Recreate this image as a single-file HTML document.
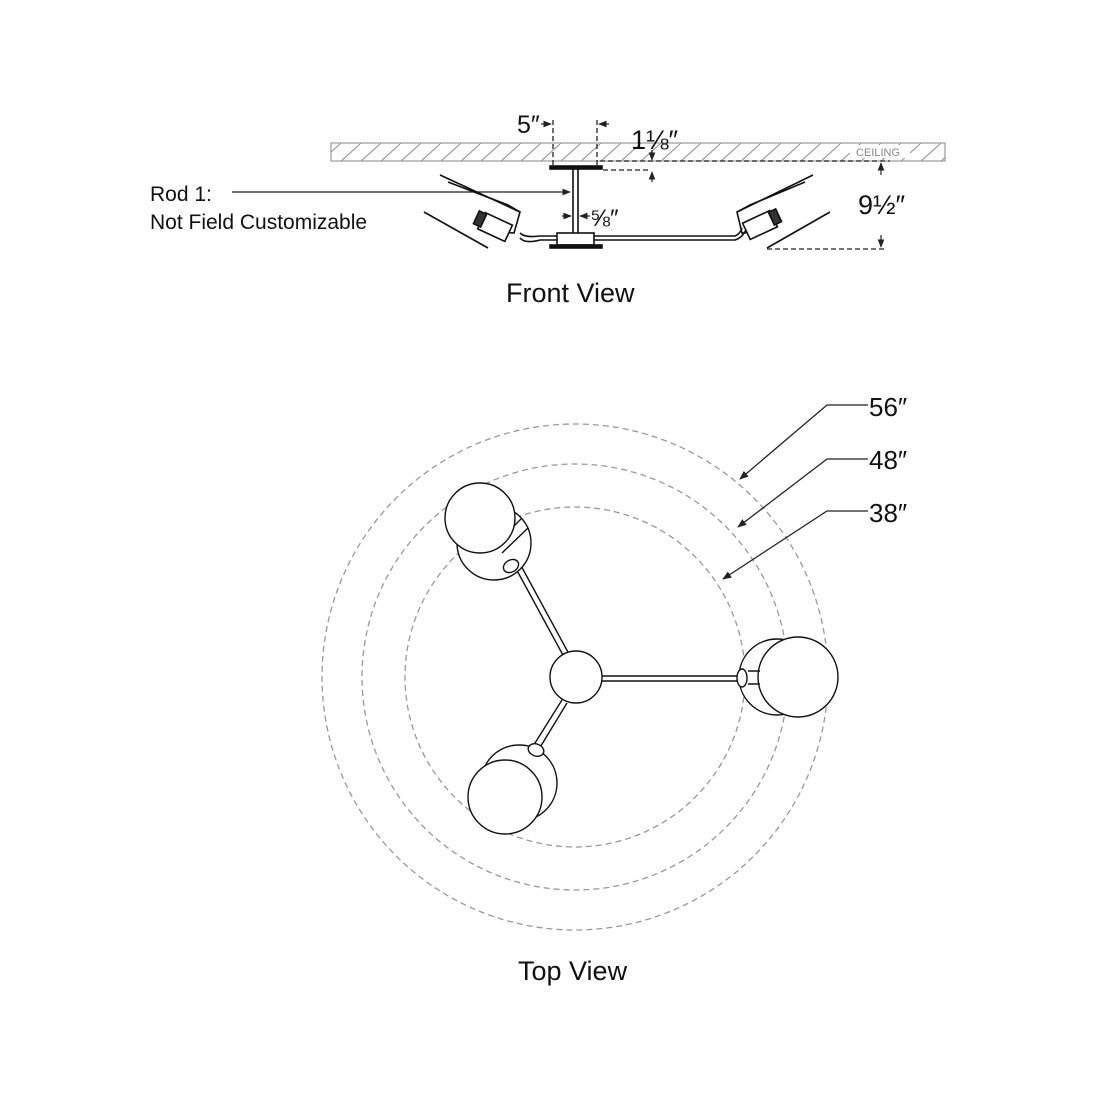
<!DOCTYPE html>
<html><head><meta charset="utf-8"><style>
body{margin:0;background:#fff;width:1100px;height:1100px;overflow:hidden}
svg{display:block}
text{font-family:"Liberation Sans",sans-serif;fill:#111}
</style></head><body>
<svg width="1100" height="1100" viewBox="0 0 1100 1100">
<defs>
<pattern id="h" width="20" height="18" patternUnits="userSpaceOnUse">
<line x1="0" y1="18" x2="20" y2="0" stroke="#888" stroke-width="1"/>
</pattern>
<marker id="a" viewBox="0 0 10 10" refX="9" refY="5" markerWidth="7" markerHeight="7" orient="auto"><path d="M0,1 L10,5 L0,9 z" fill="#222"/></marker>
</defs>
<rect x="331" y="143" width="614" height="18" fill="url(#h)" stroke="#999" stroke-width="1.2"/>
<rect x="850" y="145" width="60" height="13" fill="#fff"/>
<text x="856" y="156" font-size="11" style="fill:#888">CEILING</text>
<g stroke="#222" stroke-width="1.3" stroke-dasharray="5,3" fill="none">
<line x1="553" y1="120" x2="553" y2="168"/>
<line x1="597" y1="120" x2="597" y2="168"/>
<line x1="600" y1="161" x2="890" y2="161"/>
<line x1="603" y1="170" x2="650" y2="170"/>
<line x1="767" y1="249" x2="886" y2="249"/>
</g>
<g stroke="#222" stroke-width="1.2" fill="none">
<line x1="541" y1="124" x2="551" y2="124" marker-end="url(#a)"/>
<line x1="609" y1="124" x2="599" y2="124" marker-end="url(#a)"/>
<line x1="652" y1="150" x2="652" y2="160" marker-end="url(#a)"/>
<line x1="652" y1="182" x2="652" y2="172" marker-end="url(#a)"/>
<line x1="881" y1="175" x2="881" y2="163" marker-end="url(#a)"/>
<line x1="881" y1="235" x2="881" y2="247" marker-end="url(#a)"/>
<line x1="232" y1="192" x2="570" y2="192" marker-end="url(#a)"/>
<line x1="562" y1="216" x2="571" y2="216" marker-end="url(#a)"/>
<line x1="590" y1="216" x2="580" y2="216" marker-end="url(#a)"/>
</g>
<text x="517" y="133" font-size="25">5″</text>
<text x="631" y="149" font-size="27">1⅛″</text>
<text x="590" y="226" font-size="24">⅝″</text>
<text x="858" y="214" font-size="27">9½″</text>
<text x="150" y="201" font-size="21">Rod 1:</text>
<text x="150" y="229" font-size="21">Not Field Customizable</text>
<g stroke="#111" stroke-width="1.6" fill="#fff">
<rect x="550" y="166" width="52" height="3" fill="#111"/>
<rect x="573" y="169" width="5" height="65"/>
<path d="M520,238 Q525,244 540,240 L735,240 Q742,238 746,230" fill="none"/>
<path d="M520,233 Q525,238 540,236 L735,236 Q740,234 742,228" fill="none"/>
<rect x="557" y="233" width="37" height="12"/>
<rect x="550" y="245" width="52" height="3" fill="#111"/>
<line x1="440" y1="175" x2="520" y2="212"/>
<path d="M448,182 L508,205 L520,212 L514,233 L500,232" fill="none"/>
<line x1="424" y1="212" x2="488" y2="248"/>
<rect x="480" y="218" width="30" height="18" transform="rotate(25 495 227)"/>
<rect x="476" y="212" width="8" height="14" fill="#333" transform="rotate(25 480 219)"/>
<line x1="813" y1="175" x2="737" y2="212"/>
<path d="M805,182 L750,205 L737,212 L742,233 L756,232" fill="none"/>
<line x1="830" y1="212" x2="767" y2="248"/>
<rect x="745" y="216" width="30" height="18" transform="rotate(-25 760 225)"/>
<rect x="771" y="210" width="8" height="14" fill="#333" transform="rotate(-25 775 217)"/>
</g>
<text x="506" y="302" font-size="27">Front View</text>
<g fill="none" stroke="#999" stroke-width="1.3" stroke-dasharray="6,4">
<circle cx="575" cy="677" r="253"/>
<circle cx="575" cy="677" r="213"/>
<circle cx="575" cy="677" r="170"/>
</g>
<g stroke="#222" stroke-width="1.3" fill="none">
<polyline points="868,405 827,405 740,479" marker-end="url(#a)"/>
<polyline points="868,459 827,459 738,527" marker-end="url(#a)"/>
<polyline points="868,511 827,511 723,579" marker-end="url(#a)"/>
</g>
<text x="869" y="416" font-size="26">56″</text>
<text x="869" y="469" font-size="26">48″</text>
<text x="869" y="522" font-size="26">38″</text>
<g stroke="#111" stroke-width="1.4" fill="#fff">
<path d="M514,565 L564,657 M519,562 L569,654" fill="none"/>
<path d="M600,676 L740,676 M600,681 L740,681" fill="none"/>
<path d="M562,700 L530,751 M567,703 L536,754" fill="none"/>
<circle cx="494" cy="543" r="37"/>
<path d="M495,545 L522,518 M502,553 L528,528" fill="none"/>
<circle cx="480" cy="518" r="35"/>
<ellipse cx="511" cy="566" rx="8" ry="6" transform="rotate(-30 511 566)"/>
<circle cx="777" cy="677" r="38"/>
<circle cx="798" cy="677" r="40"/>
<path d="M748,671 L760,671 M748,684 L760,684" fill="none"/>
<ellipse cx="742" cy="678" rx="5" ry="9"/>
<circle cx="519" cy="783" r="38"/>
<circle cx="505" cy="797" r="37"/>
<ellipse cx="536" cy="750" rx="8" ry="6" transform="rotate(20 536 750)"/>
<circle cx="576" cy="677" r="26"/>
</g>
<text x="518" y="980" font-size="27">Top View</text>
</svg>
</body></html>
